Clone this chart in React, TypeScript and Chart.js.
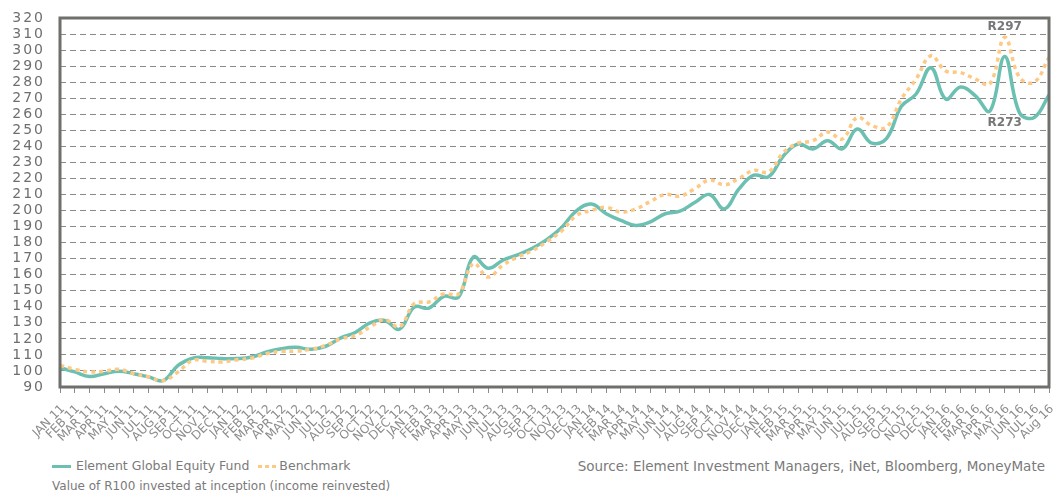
import React, { useEffect, useRef } from 'react';
import { Chart, registerables } from 'chart.js';

Chart.register(...registerables);

const monthLabels = [
  'JAN 11', 'FEB 11', 'MAR 11', 'APR 11', 'MAY 11', 'JUN 11', 'JUL 11', 'AUG 11', 'SEP 11', 'OCT 11', 'NOV 11', 'DEC 11',
  'JAN 12', 'FEB 12', 'MAR 12', 'APR 12', 'MAY 12', 'JUN 12', 'JUL 12', 'AUG 12', 'SEP 12', 'OCT 12', 'NOV 12', 'DEC 12',
  'JAN 13', 'FEB 13', 'MAR 13', 'APR 13', 'MAY 13', 'JUN 13', 'JUL 13', 'AUG 13', 'SEP 13', 'OCT 13', 'NOV 13', 'DEC 13',
  'JAN 14', 'FEB 14', 'MAR 14', 'APR 14', 'MAY 14', 'JUN 14', 'JUL 14', 'AUG 14', 'SEP 14', 'OCT 14', 'NOV 14', 'DEC 14',
  'JAN 15', 'FEB 15', 'MAR 15', 'APR 15', 'MAY 15', 'JUN 15', 'JUL 15', 'AUG 15', 'SEP 15', 'OCT 15', 'NOV 15', 'DEC 15',
  'JAN 16', 'FEB 16', 'MAR 16', 'APR 16', 'MAY 16', 'JUN 16', 'JUL 16', 'Aug 16',
];

const fundValues = [
  102, 99.4, 96.5, 98.3, 99.8, 98.3, 96.3, 94, 103.5, 108, 108.3, 107.7,
  107.7, 108.7, 111.8, 113.9, 114.7, 113.5, 115.4, 120.5, 124, 130, 131.5, 126,
  139.8, 139.2, 146.5, 146, 171, 164, 169, 172.4, 176.5, 182, 189.6, 200,
  204, 198, 193.8, 190.7, 193, 198, 199.6, 205, 210, 201, 213.5, 222,
  221, 234, 241.5, 238.4, 243.5, 238.4, 250.8, 242, 245, 265, 272.6, 289,
  269.5, 277, 271.6, 262, 296, 261, 258, 272,
];

const benchmarkValues = [
  103.5, 101, 99.4, 99.8, 101, 98.3, 96.3, 94, 99.4, 106.6, 106, 105.6,
  107, 108, 110.8, 112.2, 112.4, 113.5, 116, 120, 122, 127.4, 132, 127.4,
  142, 143, 148, 148, 167, 158.5, 166, 171, 175, 180.7, 187.5, 197,
  200, 202, 199, 201, 205.6, 210, 209, 213.5, 219, 216, 220, 225,
  224, 236, 242, 243.5, 249, 244.6, 258, 252.9, 252, 269.5, 282, 296.5,
  287, 286, 282, 279, 308, 283, 280, 295.5,
];

const seriesNames = ['Element Global Equity Fund', 'Benchmark'];
const annotationTexts = ['R297', 'R273'];
const annotationIndex = [64, 64];
const annotationValues = [314.5, 254.5];

const yMin = 90;
const yMax = 320;
const yStep = 10;

const FONT = '"DejaVu Sans", sans-serif';
const FUND_COLOR = '#6cc0b2';
const BENCH_COLOR = '#fdc984';
const FRAME_COLOR = '#6f6f6b';

const framePlugin = {
  id: 'frameBox',
  afterDatasetsDraw(chart: any) {
    const { ctx, chartArea } = chart;
    ctx.save();
    ctx.strokeStyle = FRAME_COLOR;
    ctx.lineWidth = 3;
    ctx.strokeRect(chartArea.left, chartArea.top, chartArea.right - chartArea.left, chartArea.bottom - chartArea.top);
    ctx.restore();
  },
};

const annotationPlugin = {
  id: 'valueLabels',
  afterDatasetsDraw(chart: any) {
    const { ctx, scales } = chart;
    ctx.save();
    ctx.font = 'bold 12px ' + FONT;
    ctx.fillStyle = '#777777';
    ctx.textAlign = 'center';
    ctx.textBaseline = 'middle';
    annotationTexts.forEach((t, i) => {
      const x = scales.x.getPixelForValue(annotationIndex[i]);
      const y = scales.y.getPixelForValue(annotationValues[i]);
      ctx.fillText(t, x, y);
    });
    ctx.restore();
  },
};

function App() {
  const canvasRef = useRef<HTMLCanvasElement | null>(null);

  useEffect(() => {
    if (!canvasRef.current) return;
    const chart = new Chart(canvasRef.current, {
      type: 'line',
      data: {
        labels: monthLabels,
        datasets: [
          {
            label: seriesNames[1],
            data: benchmarkValues,
            borderColor: BENCH_COLOR,
            borderWidth: 3.5,
            borderDash: [4, 4],
            pointRadius: 0,
            tension: 0.4,
            fill: false,
          },
          {
            label: seriesNames[0],
            data: fundValues,
            borderColor: FUND_COLOR,
            borderWidth: 3.5,
            pointRadius: 0,
            tension: 0.4,
            fill: false,
          },
        ],
      },
      options: {
        animation: false,
        responsive: false,
        maintainAspectRatio: false,
        layout: { padding: { top: 18, right: 5, left: 0, bottom: 0 } },
        plugins: {
          legend: { display: false },
          tooltip: { enabled: false },
        },
        scales: {
          x: {
            offset: false,
            grid: { display: true, drawOnChartArea: false, drawTicks: true, tickLength: 6, color: '#8a8a8a', lineWidth: 1 },
            border: { display: false },
            ticks: {
              autoSkip: false,
              maxRotation: 45,
              minRotation: 45,
              padding: 9,
              labelOffset: 3,
              color: '#8c8c8c',
              font: { family: FONT, size: 12 },
            },
            afterFit: (s: any) => {
              s.height = 59;
              s.paddingLeft = 0;
              s.paddingRight = 0;
            },
          },
          y: {
            min: yMin,
            max: yMax,
            grid: { color: '#8a8a8a', lineWidth: 1, drawTicks: false },
            border: { display: false, dash: [6, 4] },
            ticks: {
              stepSize: yStep,
              autoSkip: false,
              padding: 15,
              color: '#6e6e6e',
              font: { family: FONT, size: 14 },
            },
            afterFit: (s: any) => {
              s.width = 60;
              s.paddingTop = 0;
              s.paddingBottom = 0;
              s.drawLabels = function (area: any) {
                const c = this.ctx;
                c.save();
                c.letterSpacing = '2px';
                Object.getPrototypeOf(this).drawLabels.call(this, area);
                c.restore();
              };
            },
          },
        },
      },
      plugins: [framePlugin, annotationPlugin],
    });
    return () => chart.destroy();
  }, []);

  const textStyle: React.CSSProperties = {
    position: 'absolute',
    fontFamily: FONT,
    color: '#7a7a7a',
    whiteSpace: 'nowrap',
    lineHeight: '16px',
  };

  return (
    <div style={{ position: 'absolute', left: 0, top: 0, width: 1054, height: 496, background: '#ffffff' }}>
      <canvas ref={canvasRef} width={1054} height={446} style={{ position: 'absolute', left: 0, top: 0, width: 1054, height: 446 }} />
      <div style={{ ...textStyle, left: 52, top: 458, fontSize: 12.5, display: 'flex', alignItems: 'center' }}>
        <span style={{ display: 'inline-block', width: 19, height: 3, background: FUND_COLOR, marginRight: 5 }} />
        <span>{seriesNames[0]}</span>
        <span
          style={{
            display: 'inline-block',
            width: 18,
            height: 3,
            marginLeft: 9,
            marginRight: 3,
            background: `repeating-linear-gradient(90deg, ${BENCH_COLOR} 0 4px, transparent 4px 7px)`,
          }}
        />
        <span>{seriesNames[1]}</span>
      </div>
      <div style={{ ...textStyle, right: 9, top: 458, fontSize: 13.5 }}>
        Source: Element Investment Managers, iNet, Bloomberg, MoneyMate
      </div>
      <div style={{ ...textStyle, left: 52, top: 478, fontSize: 12 }}>
        Value of R100 invested at inception (income reinvested)
      </div>
    </div>
  );
}

export default App;
